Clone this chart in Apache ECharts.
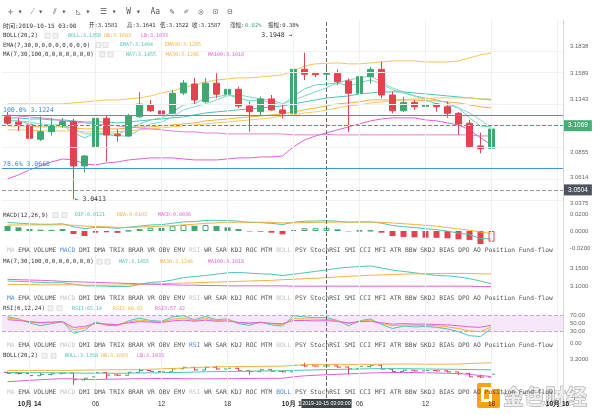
<!DOCTYPE html>
<html><head><meta charset="utf-8">
<script src="https://cdn.jsdelivr.net/npm/echarts@6/dist/echarts.min.js"></script>
<style>html,body{margin:0;padding:0;background:#fff}#c{width:600px;height:415px}</style>
</head><body><div id="c"></div><script>
// ---------- categories (hourly) ----------
const times = ['10-13 22','10-13 23',
'10-14 00','10-14 01','10-14 02','10-14 03','10-14 04','10-14 05','10-14 06','10-14 07','10-14 08','10-14 09','10-14 10','10-14 11',
'10-14 12','10-14 13','10-14 14','10-14 15','10-14 16','10-14 17','10-14 18','10-14 19','10-14 20','10-14 21','10-14 22','10-14 23',
'10-15 00','10-15 01','10-15 02','10-15 03','10-15 04','10-15 05','10-15 06','10-15 07','10-15 08','10-15 09','10-15 10','10-15 11',
'10-15 12','10-15 13','10-15 14','10-15 15','10-15 16','10-15 17','10-15 18','10-15 19','10-15 20','10-15 21','10-15 22','10-15 23',
'10-16 00'];
// ---------- OHLC ----------
const open  = [3.1184,3.1132,3.1107,3.0973,3.1044,3.1100,3.1138,3.0724,3.0904,3.1169,3.1020,3.1004,3.1184,3.1299,3.1238,3.1216,3.1406,3.1490,3.1325,3.1497,3.1394,3.1440,3.1284,3.1231,3.1350,3.1247,3.1216,3.1627,3.1590,3.1581,3.1590,3.1518,3.1403,3.1558,3.1627,3.1387,3.1240,3.1318,3.1281,3.1303,3.1277,3.1216,3.1123,3.0911,3.0889];
const close = [3.1123,3.1113,3.0982,3.1044,3.1097,3.1138,3.0724,3.0817,3.1169,3.1013,3.1007,3.1191,3.1302,3.1240,3.1210,3.1403,3.1499,3.1340,3.1497,3.1394,3.1440,3.1284,3.1231,3.1350,3.1247,3.1216,3.1627,3.1581,3.1577,3.1587,3.1511,3.1403,3.1558,3.1627,3.1387,3.1240,3.1318,3.1277,3.1294,3.1277,3.1216,3.1116,3.0904,3.0885,3.1069];
const high  = [3.1228,3.1172,3.1247,3.1185,3.1172,3.1172,3.1163,3.0826,3.1356,3.1200,3.1067,3.1210,3.1415,3.1340,3.1311,3.1434,3.1527,3.1546,3.1546,3.1590,3.1511,3.1465,3.1325,3.1371,3.1387,3.1294,3.1948,3.1782,3.1605,3.1641,3.1627,3.1543,3.1574,3.1649,3.1698,3.1418,3.1371,3.1340,3.1303,3.1312,3.1325,3.1228,3.1154,3.1035,3.1179];
const low   = [3.1097,3.1050,3.0957,3.0957,3.1007,3.1079,3.0413,3.0661,3.0892,3.0764,3.0951,3.0995,3.1172,3.1228,3.1184,3.1210,3.1387,3.1303,3.1312,3.1356,3.1356,3.1263,3.1044,3.1191,3.1238,3.1169,3.0927,3.1527,3.1552,3.1522,3.1481,3.1041,3.1306,3.1493,3.1356,3.1216,3.1228,3.1247,3.1160,3.1231,3.1175,3.1013,3.0892,3.0842,3.0857];
// ---------- overlays ----------
const bollUp  = [3.1304,3.1304,3.1304,3.1304,3.1304,3.1304,3.1313,3.1322,3.1332,3.1341,3.1341,3.1350,3.1360,3.1378,3.1406,3.1425,3.1453,3.1481,3.1509,3.1528,3.1537,3.1547,3.1547,3.1556,3.1565,3.1575,3.1612,3.1659,3.1678,3.1683,3.1687,3.1678,3.1678,3.1687,3.1696,3.1706,3.1706,3.1706,3.1696,3.1696,3.1696,3.1706,3.1734,3.1762,3.1780];
const bollMid = [3.1173,3.1173,3.1163,3.1163,3.1154,3.1154,3.1145,3.1135,3.1135,3.1135,3.1126,3.1135,3.1145,3.1154,3.1163,3.1173,3.1182,3.1201,3.1219,3.1229,3.1238,3.1248,3.1257,3.1266,3.1276,3.1285,3.1304,3.1322,3.1341,3.1358,3.1369,3.1378,3.1397,3.1406,3.1416,3.1416,3.1416,3.1406,3.1397,3.1388,3.1378,3.1369,3.1360,3.1350,3.1341];
const bollLow = [3.0602,3.0640,3.0687,3.0724,3.0761,3.0789,3.0780,3.0743,3.0733,3.0752,3.0761,3.0780,3.0789,3.0799,3.0799,3.0799,3.0789,3.0780,3.0780,3.0780,3.0789,3.0799,3.0799,3.0808,3.0808,3.0817,3.0902,3.0967,3.1004,3.1033,3.1061,3.1089,3.1117,3.1145,3.1163,3.1173,3.1173,3.1173,3.1154,3.1145,3.1126,3.1107,3.1061,3.0986,3.0920];
const ema7  = [3.1145,3.1145,3.1117,3.1098,3.1098,3.1107,3.1032,3.0986,3.1032,3.1023,3.1023,3.1061,3.1117,3.1154,3.1173,3.1229,3.1294,3.1304,3.1360,3.1369,3.1388,3.1360,3.1332,3.1341,3.1313,3.1294,3.1378,3.1444,3.1481,3.1489,3.1500,3.1472,3.1500,3.1528,3.1491,3.1435,3.1406,3.1378,3.1360,3.1341,3.1313,3.1266,3.1173,3.1098,3.1089];
const ema30 = [3.1098,3.1098,3.1098,3.1089,3.1089,3.1089,3.1079,3.1070,3.1070,3.1070,3.1070,3.1079,3.1089,3.1089,3.1098,3.1107,3.1117,3.1126,3.1145,3.1154,3.1163,3.1173,3.1182,3.1191,3.1201,3.1210,3.1229,3.1248,3.1266,3.1285,3.1304,3.1313,3.1322,3.1341,3.1341,3.1341,3.1341,3.1341,3.1332,3.1332,3.1322,3.1313,3.1294,3.1276,3.1266];
const ma7   = [3.1154,3.1145,3.1135,3.1117,3.1107,3.1107,3.1070,3.1023,3.1023,3.1014,3.1004,3.1004,3.1061,3.1117,3.1135,3.1182,3.1248,3.1276,3.1304,3.1341,3.1378,3.1388,3.1369,3.1350,3.1341,3.1304,3.1341,3.1378,3.1416,3.1455,3.1500,3.1528,3.1547,3.1565,3.1509,3.1453,3.1416,3.1378,3.1341,3.1304,3.1294,3.1266,3.1219,3.1154,3.1079];
const ma30  = [3.1061,3.1061,3.1061,3.1051,3.1051,3.1051,3.1051,3.1042,3.1042,3.1042,3.1042,3.1051,3.1061,3.1070,3.1079,3.1089,3.1098,3.1107,3.1117,3.1126,3.1135,3.1145,3.1154,3.1163,3.1173,3.1191,3.1201,3.1219,3.1229,3.1246,3.1266,3.1285,3.1294,3.1313,3.1322,3.1332,3.1341,3.1350,3.1350,3.1360,3.1360,3.1360,3.1360,3.1350,3.1350];
const ma100 = [3.1201,3.1191,3.1182,3.1173,3.1163,3.1145,3.1135,3.1126,3.1117,3.1107,3.1098,3.1089,3.1079,3.1070,3.1061,3.1051,3.1042,3.1042,3.1032,3.1032,3.1023,3.1023,3.1023,3.1023,3.1023,3.1023,3.1014,3.1014,3.1014,3.1018,3.1014,3.1014,3.1014,3.1014,3.1014,3.1014,3.1014,3.1014,3.1014,3.1014,3.1014,3.1014,3.1014,3.1004,3.1004];
// ---------- MACD ----------
const macd = [0.0059,0.0043,0.0024,0.0015,0.0013,0.0024,-0.0035,-0.0059,-0.0020,-0.0015,-0.0022,0.0003,0.0024,0.0039,0.0037,0.0055,0.0070,0.0062,0.0070,0.0059,0.0043,0.0024,-0.0005,-0.0008,-0.0020,-0.0039,0.0012,0.0032,0.0033,0.0036,0.0020,-0.0004,0.0003,0.0005,-0.0020,-0.0059,-0.0070,-0.0074,-0.0079,-0.0080,-0.0086,-0.0098,-0.0105,-0.0153,-0.0126];
const dif  = [0.0100,0.0093,0.0084,0.0080,0.0079,0.0085,0.0050,0.0028,0.0043,0.0041,0.0032,0.0045,0.0058,0.0071,0.0075,0.0091,0.0107,0.0111,0.0124,0.0126,0.0123,0.0116,0.0101,0.0099,0.0090,0.0076,0.0103,0.0115,0.0118,0.0121,0.0115,0.0103,0.0107,0.0108,0.0092,0.0065,0.0051,0.0040,0.0027,0.0017,-0.0003,-0.0024,-0.0043,-0.0089,-0.0093];
const dea  = [0.0070,0.0071,0.0072,0.0072,0.0072,0.0073,0.0068,0.0058,0.0053,0.0049,0.0043,0.0043,0.0046,0.0051,0.0056,0.0063,0.0072,0.0080,0.0089,0.0096,0.0101,0.0104,0.0104,0.0103,0.0100,0.0096,0.0097,0.0099,0.0101,0.0103,0.0105,0.0105,0.0105,0.0105,0.0102,0.0095,0.0086,0.0077,0.0067,0.0057,0.0040,0.0025,0.0010,-0.0012,-0.0030];
// ---------- RSI ----------
const rsi1 = [67,62,52,45,50,55,26,33,55,46,45,57,64,58,56,67,70,60,68,60,62,50,46,54,47,44,70,67,65,65.14,58,45,57,62,48,38,44,42,43,41,37,30,20,18,38];
const rsi2 = [64,61,55,51,53,55,35,39,52,48,47,54,59,56,55,61,64,58,63,58,60,53,50,54,50,48,63,62,61,60.82,57,50,56,59,51,45,47,46,46,45,42,38,32,30,42];
const rsi3 = [60,58,55,53,54,55,41,43,51,49,48,52,55,54,53,57,59,56,59,56,57,53,52,53,51,50,58,58,57,57.42,56,52,55,56,52,49,50,49,49,48,47,45,42,41,46];
// ---------- ticks / markers ----------
const mainTicks = [3.0375,3.0614,3.0855,3.1098,3.1343,3.1589,3.1838];
const macdTicks = [-0.02,0,0.02];
const maTicks = [3.10,3.15];
const rsiTicks = [0,30,50,70];
const bollTicks = [3.2];
const fibLevels = ['100.0%','78.6%'];
const fibValues = [3.1224,3.0668];
const lastPrice = 3.1069, crossPrice = 3.0504, crossIndex = 29;
const crossLabel = '2019-10-15 03:00:00';
const tabNames = ['MA','EMA','VOLUME','MACD','DMI','DMA','TRIX','BRAR','VR','OBV','EMV','RSI','WR','SAR','KDJ','ROC','MTM','BOLL','PSY','StochRSI','SMI','CCI','MFI','ATR','BBW','SKDJ','BIAS','DPO','AO','Position','Fund-flow'];

// ---------- styles ----------
const UP='#3fa872', DOWN='#e2444f';
const TEAL='#4cc4b2', TEAL2='#6fd0c0', ORANGE='#f3b23c', YEL='#f5c558', PINK='#e05fd6', PINK2='#e77edb';
const MONO='"DejaVu Sans Mono","Noto Sans CJK SC",monospace';
const SANS='"Liberation Sans",sans-serif';
const AX = {color:'#666', fontSize:6, fontFamily:SANS, margin:7};

const chart = echarts.init(document.getElementById('c'), null, {renderer:'canvas'});
const G = [
  {top:20, height:190},
  {top:213, height:35},
  {top:264, height:30},
  {top:311.7, height:32},
  {top:358, height:28},
  {top:20, height:378}
].map(g => Object.assign({left:2, width:561}, g));

const xAxes = G.map((g,i)=>({
  type:'category', gridIndex:i, data:times, boundaryGap:true,
  axisLine:{show:false}, axisTick:{show:false}, splitLine:{show:false},
  axisLabel: i===5 ? {
    show:true, margin:3, color:'#333', fontSize:6.5, fontFamily:SANS,
    interval:(idx,val)=>['00','06','12','18'].includes(val.slice(-2)),
    formatter:(val)=>{const h=val.slice(-2); if(h==='00'){return '{b|10月 '+val.slice(3,5)+'}';} return h;},
    rich:{b:{fontWeight:'bold', fontSize:6.5, color:'#222'}}
  } : {show:false}
}));

function yAx(i, min, max, ticks, dec){
  return {type:'value', gridIndex:i, position:'right', min, max, scale:true,
    axisLine:{show:false}, axisTick:{show:false}, splitLine:{show:false},
    axisLabel: Object.assign({show:true, customValues:ticks, formatter:v=>v.toFixed(dec)}, AX)};
}
const yAxes = [
  yAx(0, 3.0312, 3.2088, mainTicks, 4),
  yAx(1, -0.02, 0.0212, macdTicks, 4),
  yAx(2, 3.0802, 3.1617, maTicks, 4),
  yAx(3, 0, 80, rsiTicks, 2),
  yAx(4, 3.0331, 3.2081, bollTicks, 4),
  {type:'value', gridIndex:5, position:'right', min:0, max:1, axisLine:{show:true, lineStyle:{color:'#d6d6d6'}}, axisTick:{show:false}, axisLabel:{show:false}, splitLine:{show:false}}
];

function line(data, color, xi, width){
  return {type:'line', xAxisIndex:xi, yAxisIndex:xi, data, symbol:'none', silent:true, lineStyle:{width:width||1, color}, z:3};
}

const candle = {
  type:'candlestick', xAxisIndex:0, yAxisIndex:0, barWidth:7, silent:true, z:4,
  data: open.map((o,i)=>[o, close[i], low[i], high[i]]),
  itemStyle:{color:UP, color0:DOWN, borderColor:UP, borderColor0:DOWN, borderWidth:1},
  markPoint:{symbol:'circle', symbolSize:0.1, silent:true, itemStyle:{color:'rgba(0,0,0,0)'},
    data:[
      {type:'max', valueDim:'highest', label:{show:true, position:'left', distance:1, color:'#333', fontSize:6.5, fontFamily:MONO, formatter:p=>p.value.toFixed(4)+' →'}},
      {type:'min', valueDim:'lowest', label:{show:true, position:'right', distance:1, color:'#333', fontSize:6.5, fontFamily:MONO, formatter:p=>'← '+p.value.toFixed(4)}}
    ]},
  markLine:{symbol:['none','none'], silent:true, animation:false,
    data:[
      ...mainTicks.map(v=>({yAxis:v, lineStyle:{color:'#f1f1f1', type:'solid', width:1}, label:{show:false}})),
      ...fibValues.map((v,k)=>({yAxis:v, lineStyle:{color:'#4a8fdc', type:'solid', width:1},
        label:{show:true, position:'insideStartTop', distance:[1,1], color:'#3d86d8', fontSize:6.5, fontFamily:MONO, formatter:fibLevels[k]+' '+v.toFixed(4)}})),
      {yAxis:lastPrice, lineStyle:{color:UP, type:'dashed', width:1},
        label:{show:true, position:'end', distance:1, formatter:lastPrice.toFixed(4), color:'#fff', backgroundColor:'#45ad78', padding:[2,4,2,4], fontSize:6.5, fontFamily:SANS}},
      {yAxis:crossPrice, lineStyle:{color:'#999', type:'dashed', width:1},
        label:{show:true, position:'end', distance:1, formatter:crossPrice.toFixed(4), color:'#fff', backgroundColor:'#4d535c', padding:[2,4,2,4], fontSize:6.5, fontFamily:SANS}}
    ]}
};

const macdBars = {
  type:'bar', xAxisIndex:1, yAxisIndex:1, barWidth:6, silent:true,
  data: macd.map((v,i)=>{
    const prev = i>0 ? macd[i-1] : Infinity;
    const col = v>=0 ? UP : DOWN;
    const hollow = v>prev;
    return {value:v, itemStyle: hollow ? {color:'rgba(0,0,0,0)', borderColor:col, borderWidth:1} : {color:col}};
  })
};

const ohlc = {
  type:'custom', xAxisIndex:4, yAxisIndex:4, silent:true,
  data: open.map((o,i)=>[i,o,close[i],low[i],high[i]]),
  encode:{x:0, y:[1,2,3,4]},
  renderItem:(params, api)=>{
    const i=api.value(0), o=api.value(1), c=api.value(2), l=api.value(3), h=api.value(4);
    const pH=api.coord([i,h]), pL=api.coord([i,l]), pO=api.coord([i,o]), pC=api.coord([i,c]);
    const col = c>=o ? UP : DOWN; const w=3.5;
    return {type:'group', children:[
      {type:'line', shape:{x1:pH[0],y1:pH[1],x2:pL[0],y2:pL[1]}, style:{stroke:col, lineWidth:1}},
      {type:'line', shape:{x1:pO[0]-w,y1:pO[1],x2:pO[0],y2:pO[1]}, style:{stroke:col, lineWidth:1}},
      {type:'line', shape:{x1:pC[0],y1:pC[1],x2:pC[0]+w,y2:pC[1]}, style:{stroke:col, lineWidth:1}}
    ]};
  }
};

const rsiBand = {
  type:'line', xAxisIndex:3, yAxisIndex:3, data:rsi3, symbol:'none', silent:true, lineStyle:{width:1, color:PINK}, z:3,
  markArea:{silent:true, itemStyle:{color:'rgba(226,170,242,0.28)'}, data:[[{yAxis:30},{yAxis:70}]]},
  markLine:{symbol:['none','none'], silent:true, label:{show:false},
    lineStyle:{color:'#c7a3d8', type:'dashed', width:1}, data:[{yAxis:30},{yAxis:70}]}
};

const overlay = {
  type:'line', xAxisIndex:5, yAxisIndex:5, data:times.map(()=>null), symbol:'none', silent:true, z:6,
  markLine:{symbol:['none','none'], silent:true,
    data:[
      ...times.filter(t=>['00','06','12','18'].includes(t.slice(-2))).map(t=>({xAxis:t, lineStyle:{color:'#f0f0f0', type:'solid', width:1}, label:{show:false}})),
      {xAxis:times[crossIndex], lineStyle:{color:'#666', type:'dashed', width:1},
        label:{show:true, position:'start', distance:1, formatter:crossLabel, color:'#fff', backgroundColor:'#3e434b', padding:[2,1,2,1], fontSize:5.2, fontFamily:SANS}}
    ]}
};

// ---------- graphic text ----------
function T(x,y,text,fill,size,extra){
  return {type:'text', x, y, silent:true, z:20, style:Object.assign({text, fill:fill||'#333', font:(size||5.8)+'px '+MONO, verticalAlign:'middle', align:'left'}, extra||{})};
}
function V(x,y,text,fill){ return T(x,y,text,fill,5.0); }
function H(x,text,fill){ return T(x,26,text,fill||'#333',5.5); }
function I(x,y){ return {type:'rect', silent:true, z:20, shape:{x, y:y-2.5, width:5, height:5}, style:{fill:'#f3f3f3', stroke:'#cfcfcf', lineWidth:0.6}}; }
function tabRow(y, active, dim){
  const txt = tabNames.map(n => n===active ? '{a|'+n+'}' : (dim.includes(n) ? '{d|'+n+'}' : '{n|'+n+'}')).join(' ');
  const f = '6.3px '+MONO;
  return {type:'text', x:7, y, silent:true, z:20, style:{text:txt, font:f, fill:'#555', verticalAlign:'middle',
    rich:{a:{fill:'#4a87e0', font:f}, d:{fill:'#c4c4c4', font:f}, n:{fill:'#555', font:f}}}};
}
const graphics = [
  T(8,12,'✛ ▾  ⁄ ▾  ⫽ ▾  ◺ ▾  ☰ ▾  W ▾  Aa  ✎  ✐  ◎  ⊡  ⊟','#555',8),
  T(3,26,'时间:2019-10-15 03:00','#333',6), H(89,'开:3.1581'), H(127,'高:3.1641'), H(160,'低:3.1522'), H(192,'收:3.1587'),
  H(230,'涨幅:'), H(245,'0.02%',UP), H(268,'振幅:0.38%'),
  T(3,35.7,'BOLL(20,2)'), I(45,35.7), I(53,35.7), V(68,35.7,'BOLL:3.1358',TEAL), V(104,35.7,'UB:3.1683',ORANGE), V(141,35.7,'LB:3.1033',PINK),
  T(3,45,'EMA(7,30,0,0,0,0,0,0,0,0)'), I(96,45), I(103,45), V(120,45,'EMA7:3.1494',TEAL), V(165,45,'EMA30:3.1285',ORANGE),
  T(3,54.5,'MA(7,30,100,0,0,0,0,0,0,0)'), I(100,54.5), I(108,54.5), V(126,54.5,'MA7:3.1455',TEAL), V(166,54.5,'MA30:3.1246',ORANGE), V(208,54.5,'MA100:3.1018',PINK),
  T(3,215,'MACD(12,26,9)'), I(53,215), I(62,215), V(75,215,'DIF:0.0121',TEAL), V(117,215,'DEA:0.0103',ORANGE), V(158,215,'MACD:0.0036',PINK),
  tabRow(250.7,'MACD',['MA','RSI','BOLL']),
  T(3,261.7,'MA(7,30,100,0,0,0,0,0,0,0)'), I(97,261.7), I(105,261.7), V(119,261.7,'MA7:3.1455',TEAL), V(160,261.7,'MA30:3.1246',ORANGE), V(208,261.7,'MA100:3.1018',PINK),
  tabRow(298.3,'MA',['MACD','RSI','BOLL']),
  T(3,308.3,'RSI(6,12,24)'), I(48,308.3), I(57,308.3), V(72,308.3,'RSI1:65.14',TEAL), V(113,308.3,'RSI2:60.82',ORANGE), V(155,308.3,'RSI3:57.42',PINK),
  tabRow(345.7,'RSI',['MA','MACD','BOLL']),
  T(3,355.7,'BOLL(20,2)'), I(42,355.7), I(51,355.7), V(65,355.7,'BOLL:3.1358',TEAL), V(101,355.7,'UB:3.1683',ORANGE), V(137,355.7,'LB:3.1033',PINK),
  tabRow(392.7,'BOLL',['MA','MACD','RSI']),
  // watermark logo
  {type:'group', z:30, silent:true, children:[
    {type:'rect', shape:{x:477,y:383,width:23,height:25,r:2}, style:{fill:'#f5a311'}},
    {type:'rect', shape:{x:481,y:387,width:11,height:15}, style:{fill:'#fff'}},
    {type:'rect', shape:{x:484,y:390,width:5,height:9}, style:{fill:'#f5a311'}},
    {type:'rect', shape:{x:492,y:383,width:8,height:6}, style:{fill:'#fff'}},
    {type:'text', x:503, y:396, style:{text:'金色财经', font:'bold 21px "Noto Sans CJK SC"', fill:'#ededed', stroke:'#9c9c9c', lineWidth:1, verticalAlign:'middle'}}
  ]}
];

const option = {
  animation:false,
  backgroundColor:'#fff',
  grid:G,
  xAxis:xAxes,
  yAxis:yAxes,
  series:[
    overlay,
    line(bollUp, YEL, 0), line(bollMid, TEAL, 0), line(bollLow, PINK, 0),
    line(ema7, TEAL2, 0), line(ema30, ORANGE, 0),
    line(ma7, '#83d6c8', 0), line(ma30, '#f7c862', 0), line(ma100, PINK2, 0),
    candle,
    macdBars, line(dif, TEAL, 1), line(dea, ORANGE, 1),
    line(ma7, TEAL, 2), line(ma30, ORANGE, 2), line(ma100, PINK, 2),
    line(rsi1, TEAL, 3), line(rsi2, ORANGE, 3), rsiBand,
    ohlc, line(bollUp, ORANGE, 4), line(bollMid, TEAL, 4), line(bollLow, PINK, 4)
  ],
  graphic:graphics
};
chart.setOption(option);
</script></body></html>
